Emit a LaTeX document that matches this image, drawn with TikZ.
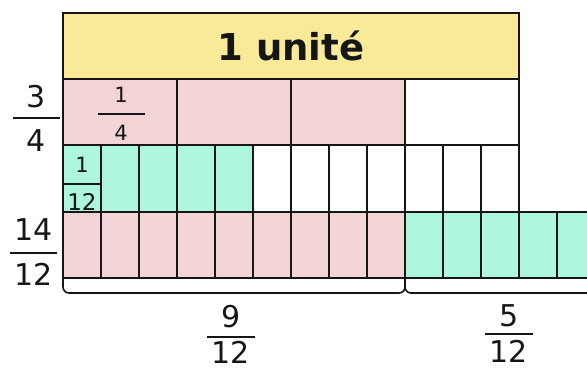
\documentclass[tikz,border=0pt]{standalone}
\usepackage{fontspec}
\setmainfont{DejaVu Sans}
\definecolor{unitfill}{RGB}{248,234,152}
\definecolor{pinkfill}{RGB}{242,212,214}
\definecolor{greenfill}{RGB}{173,245,220}
\definecolor{ink}{RGB}{22,22,22}
\begin{document}
\begin{tikzpicture}[x=1pt,y=-1pt,
  cell/.style={draw=ink,line width=1.6pt,inner sep=0pt,outer sep=0pt,anchor=north west},
  quarter/.style={cell,minimum width=114pt,minimum height=66pt},
  twelfth/.style={cell,minimum width=38pt,minimum height=67pt},
  twelfthlow/.style={cell,minimum width=38pt,minimum height=66pt},
  num/.style={anchor=base,inner sep=0pt,text=ink,font=\fontsize{30}{30}\selectfont},
  smallnum/.style={anchor=base,inner sep=0pt,text=ink,font=\fontsize{21}{21}\selectfont},
  bar/.style={draw=ink,line width=1.8pt},
  brace/.style={draw=ink,line width=1.6pt,rounded corners=6pt}]
\useasboundingbox (0,0) rectangle (587,370);
\clip (0,0) rectangle (587,370);

% the whole unit
\node[cell,fill=unitfill,minimum width=456pt,minimum height=66pt] (unit) at (63,13) {};
\node[anchor=base,inner sep=0pt,text=ink,font=\fontsize{37}{37}\bfseries\selectfont] (unitlabel) at (unit.center |- 0,60) {1 unité};

% quarters: three shaded, one empty
\foreach \i in {0,1,2}
  \node[quarter,fill=pinkfill] (q\i) at (63+114*\i,79) {};
\node[quarter,fill=white] (q3) at (405,79) {};

% twelfths: five shaded
\foreach \i in {0,...,11}{
  \ifnum\i<5 \def\cellcol{greenfill}\else\def\cellcol{white}\fi
  \node[twelfth,fill=\cellcol] (t\i) at (63+38*\i,145) {};
}

% fourteen twelfths: nine pink, five green
\foreach \i in {0,...,13}{
  \ifnum\i<9 \def\cellcol{pinkfill}\else\def\cellcol{greenfill}\fi
  \node[twelfthlow,fill=\cellcol] (r\i) at (63+38*\i,212) {};
}

% 1/4 inside the first quarter
\node[smallnum] (qn) at (121,102) {1};
\draw[bar] (98,114) -- (145,114);
\node[smallnum] (qd) at (121,140) {4};

% 1/12 inside the first twelfth
\node[smallnum] (tn) at (t0.center |- 0,172) {1};
\draw[draw=ink,line width=1.6pt] ([yshift=-39pt]t0.north west) -- ([yshift=-39pt]t0.north east);
\node[anchor=base,inner sep=0pt,text=ink,font=\fontsize{23}{23}\selectfont] (td) at (t0.center |- 0,210) {12};

% 3/4 on the left
\node[num] (ln) at (36.5,107) {3};
\draw[bar] (13,118) -- (60,118);
\node[num] (ld) at (36.5,151) {4};

% 14/12 on the left
\node[num] (mn) at (34,240) {14};
\draw[bar] (10,253) -- (57,253);
\node[num] (md) at (34,285) {12};

% braces under the bottom row
\draw[brace] ([yshift=-1pt]r0.south west) -- ++(0,14) -| ([yshift=-1pt]r8.south east);
\draw[brace] ([yshift=-1pt]r9.south west) -- ++(0,14) -| ([yshift=-1pt]r13.south east);

% 9/12
\node[num] (an) at (231,327) {9};
\draw[bar] (207,337) -- (255,337);
\node[num] (ad) at (231,363) {12};

% 5/12
\node[num] (bn) at (509,326) {5};
\draw[bar] (485,334) -- (533,334);
\node[num] (bd) at (509,362) {12};
\end{tikzpicture}
\end{document}
